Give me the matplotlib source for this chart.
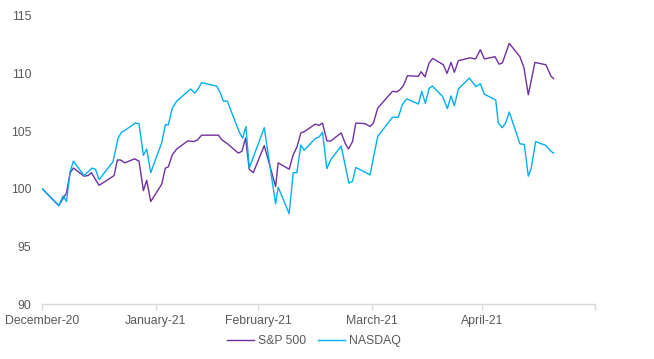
import matplotlib.pyplot as plt

# days since start of axis
sp_days = [0, 4.5, 6.6, 7.6, 8.5, 11.4, 12.5, 13.4, 15.5, 19.6, 20.5, 21.4, 22.5, 25.2, 26.4,
           27.6, 28.5, 29.6, 32.6, 33.6, 34.4, 35.5, 36.7, 39.7, 41.4, 42.4, 43.5, 48.1, 49.0,
           50.4, 53.5, 54.5, 55.5, 56.5, 57.6, 60.6, 63.7, 64.4, 67.4, 68.5, 69.5, 70.6, 71.5,
           74.5, 75.6, 76.5, 77.7, 78.8, 81.6, 82.7, 83.6, 84.7, 85.6, 88.1, 89.5, 90.4, 91.6,
           95.6, 96.8, 97.7, 98.6, 99.7, 102.7, 103.4, 104.5, 105.6, 106.6, 109.5, 110.5, 111.6,
           112.5, 113.6, 116.8, 118.3, 119.6, 120.7, 123.6, 124.7, 125.6, 127.5, 130.4, 131.5,
           132.7, 134.5, 137.5, 138.9, 139.6]
sp_vals = [100.0, 98.55, 99.65, 101.4, 101.8, 101.1, 101.15, 101.4, 100.3, 101.15, 102.5, 102.5,
           102.25, 102.6, 102.4, 99.85, 100.75, 98.9, 100.4, 101.8, 101.9, 102.95, 103.45, 104.15,
           104.1, 104.25, 104.65, 104.65, 104.25, 103.95, 103.1, 103.25, 104.4, 101.7, 101.4,
           103.75, 100.2, 102.25, 101.7, 102.95, 103.6, 104.85, 104.95, 105.6, 105.5, 105.7,
           104.15, 104.15, 104.85, 103.95, 103.45, 104.1, 105.7, 105.65, 105.4, 105.7, 107.0,
           108.45, 108.4, 108.6, 108.95, 109.8, 109.75, 110.15, 109.7, 110.9, 111.3, 110.75,
           110.0, 110.95, 110.1, 111.1, 111.35, 111.25, 112.05, 111.25, 111.45, 110.8, 110.9,
           112.6, 111.45, 110.5, 108.15, 110.95, 110.75, 109.75, 109.55]

nq_days = [0, 4.5, 5.7, 6.6, 7.6, 8.5, 11.4, 13.6, 14.5, 15.5, 19.3, 20.7, 21.6, 22.7, 25.4,
           26.4, 27.6, 28.5, 29.6, 32.6, 33.6, 34.4, 35.5, 36.7, 39.4, 40.5, 41.6, 42.6, 43.5,
           47.6, 48.7, 49.4, 50.5, 53.8, 54.7, 55.6, 56.5, 60.6, 63.7, 64.4, 67.4, 68.5, 69.5,
           70.6, 71.5, 74.5, 75.6, 76.5, 77.7, 78.8, 81.6, 83.7, 84.7, 85.6, 88.1, 89.5, 90.4,
           91.6, 95.6, 97.2, 98.3, 99.5, 102.7, 103.6, 104.6, 105.6, 106.5, 109.3, 110.6, 111.6,
           112.5, 113.6, 116.6, 118.4, 119.6, 120.7, 123.8, 124.5, 125.6, 126.5, 127.5, 130.4,
           131.6, 132.7, 133.5, 134.7, 137.5, 138.9, 139.6]
nq_vals = [100.0, 98.55, 99.4, 98.9, 101.5, 102.4, 101.15, 101.8, 101.7, 100.8, 102.35, 104.4,
           104.9, 105.1, 105.7, 105.65, 102.9, 103.45, 101.4, 104.0, 105.55, 105.55, 107.0, 107.6,
           108.35, 108.65, 108.3, 108.7, 109.2, 108.9, 108.25, 107.6, 107.6, 104.9, 104.4, 105.4,
           101.8, 105.3, 98.7, 100.15, 97.85, 101.4, 101.4, 103.8, 103.35, 104.35, 104.5, 104.9,
           101.75, 102.55, 103.7, 100.5, 100.65, 101.85, 101.45, 101.2, 102.7, 104.55, 106.2,
           106.2, 107.3, 107.8, 107.35, 108.45, 107.4, 108.7, 108.9, 108.0, 106.95, 108.05,
           107.2, 108.65, 109.6, 108.85, 109.1, 108.2, 107.7, 105.7, 105.3, 105.7, 106.65, 103.9,
           103.85, 101.1, 101.8, 104.1, 103.75, 103.25, 103.1]

tick_days = [0, 31, 59, 90, 120, 151]
tick_labels = ['December-20', 'January-21', 'February-21', 'March-21', 'April-21', '']

plt.rcParams['font.family'] = ['Liberation Sans', 'DejaVu Sans']

fig = plt.figure(figsize=(6.54, 3.59), dpi=100)
ax = fig.add_axes([0.0647, 0.1524, 0.8456, 0.8039])

ax.plot(sp_days, sp_vals, color='#7030A0', lw=1.0, label='S&P 500')
ax.plot(nq_days, nq_vals, color='#00B0F0', lw=1.0, label='NASDAQ')

ax.set_xlim(0, 151)
ax.set_ylim(90, 115)
ax.set_yticks([90, 95, 100, 105, 110, 115])
ax.set_xticks(tick_days)
ax.set_xticklabels(tick_labels)

for s in ['top', 'right', 'left']:
    ax.spines[s].set_visible(False)
ax.spines['bottom'].set_color('#D9D9D9')
ax.spines['bottom'].set_linewidth(1.0)
ax.tick_params(axis='x', colors='#D9D9D9', length=4, width=1.0, pad=4, labelcolor='#595959', labelsize=8.8)
ax.tick_params(axis='y', length=0, pad=8, labelcolor='#595959', labelsize=8.8)

fig.legend(loc='center', bbox_to_anchor=(0.48, 0.05), ncol=2, frameon=False, fontsize=8.8,
           handlelength=2.2, handletextpad=0.3, columnspacing=1.0, labelcolor='#595959')

fig.savefig('out.png', dpi=100)
